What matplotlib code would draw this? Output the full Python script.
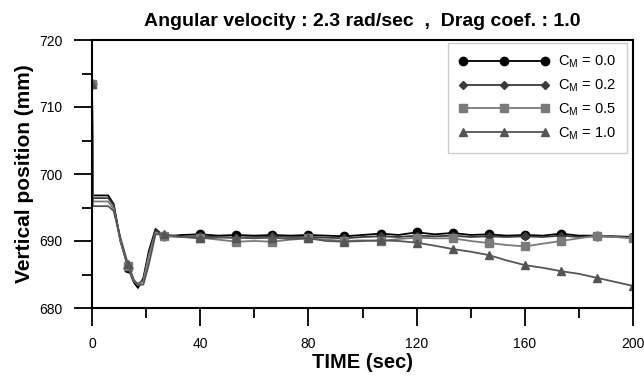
import numpy as np
import matplotlib
matplotlib.use('Agg')
import matplotlib.pyplot as plt
from matplotlib.lines import Line2D
from matplotlib.ticker import MultipleLocator

plt.rcParams['font.family'] = ['Liberation Sans', 'DejaVu Sans']
plt.rcParams['mathtext.fontset'] = 'custom'
plt.rcParams['mathtext.rm'] = 'Liberation Sans'

# time (sec): transient part, then every 6.67 s
t = [0, 0.3, 6.0, 8.0, 10.5, 13.33, 15.5, 17.0, 19.0, 21.0, 23.5,
     26.67, 33.33, 40, 46.67, 53.33, 60, 66.67, 73.33, 80, 86.67, 93.33,
     100, 106.67, 113.33, 120, 126.67, 133.33, 140, 146.67, 153.33, 160,
     166.67, 173.33, 180, 186.67, 193.33, 200]

cm_00 = [713.5, 696.8, 696.8, 695.5, 690.0, 686.0, 683.8, 683.0, 684.5, 688.5, 691.8,
         690.7, 690.9, 691.0, 690.8, 690.9, 690.8, 690.9, 690.8, 690.9, 690.8, 690.7,
         690.9, 691.1, 690.9, 691.3, 691.0, 691.2, 690.9, 691.0, 690.8, 690.9,
         690.8, 691.1, 690.8, 690.8, 690.7, 690.6]
cm_02 = [713.5, 696.4, 696.4, 695.3, 690.2, 686.2, 684.0, 683.6, 684.2, 688.0, 691.6,
         690.8, 690.6, 690.7, 690.6, 690.5, 690.6, 690.7, 690.6, 690.6, 690.5, 690.4,
         690.6, 690.7, 690.6, 690.8, 690.7, 690.8, 690.6, 690.7, 690.6, 690.7,
         690.6, 690.8, 690.6, 690.7, 690.6, 690.5]
cm_05 = [713.5, 695.9, 695.9, 694.8, 690.0, 686.2, 684.0, 683.5, 684.0, 687.8, 691.2,
         690.7, 690.6, 690.5, 690.2, 689.9, 690.0, 689.9, 690.2, 690.4, 690.2, 690.0,
         690.1, 690.0, 690.3, 690.5, 690.4, 690.4, 690.0, 689.7, 689.4, 689.2,
         689.6, 690.0, 690.4, 690.8, 690.6, 690.4]
cm_10 = [713.5, 695.2, 695.2, 694.5, 690.5, 686.5, 684.2, 683.4, 683.5, 686.5, 691.0,
         691.0, 690.6, 690.4, 690.5, 690.5, 690.4, 690.5, 690.3, 690.4, 690.0, 689.9,
         690.0, 690.1, 690.0, 689.75, 689.3, 688.8, 688.4, 687.9, 687.1, 686.4,
         686.0, 685.5, 685.1, 684.5, 683.9, 683.3]

labels = ['C$_{\\mathrm{M}}$ = 0.0', 'C$_{\\mathrm{M}}$ = 0.2',
          'C$_{\\mathrm{M}}$ = 0.5', 'C$_{\\mathrm{M}}$ = 1.0']
series = [cm_00, cm_02, cm_05, cm_10]
colors = ['#000000', '#3a3a3a', '#7a7a7a', '#555555']
markers = ['o', 'D', 's', '^']
msizes = [6, 4, 6, 6]

# markers every 13.33 s
mark_idx = [0, 5] + list(range(11, len(t), 2))

fig = plt.figure(figsize=(6.44, 3.76), dpi=100)
ax = fig.add_axes([92/644, 1-308/376, (633-92)/644, (308-40)/376])

handles = []
for y, c, m, ms, lab in zip(series, colors, markers, msizes, labels):
    ax.plot(t, y, color=c, lw=1.3, marker=m, ms=ms, markevery=mark_idx,
            markeredgecolor=c, markerfacecolor=c)
    handles.append(Line2D([], [], color=c, lw=1.3, marker=m, ms=ms,
                          markeredgecolor=c, markerfacecolor=c, label=lab))

ax.set_xlim(0, 200)
ax.set_ylim(680, 720)
ax.xaxis.set_major_locator(MultipleLocator(40))
ax.xaxis.set_minor_locator(MultipleLocator(20))
ax.yaxis.set_major_locator(MultipleLocator(10))
ax.yaxis.set_minor_locator(MultipleLocator(5))
ax.tick_params(which='major', direction='out', length=13, width=1.3,
               labelsize=10, pad=8)
ax.tick_params(which='minor', direction='out', length=7, width=1.3)
for s in ax.spines.values():
    s.set_linewidth(1.5)

ax.set_xlabel('TIME (sec)', fontsize=14.5, fontweight='bold', labelpad=1)
ax.set_ylabel('Vertical position (mm)', fontsize=15, fontweight='bold', labelpad=4)
ax.set_title('Angular velocity : 2.3 rad/sec  ,  Drag coef. : 1.0',
             fontsize=14, fontweight='bold', pad=10)

leg = ax.legend(handles=handles, loc='upper right', bbox_to_anchor=(0.989, 0.99),
                borderaxespad=0, fontsize=10.5, numpoints=3, handlelength=6.2,
                labelspacing=0.5, fancybox=False, edgecolor='#c0c0c0',
                borderpad=0.75, handletextpad=0.6)
leg.get_frame().set_linewidth(1.0)

fig.savefig('out.png', dpi=100)
